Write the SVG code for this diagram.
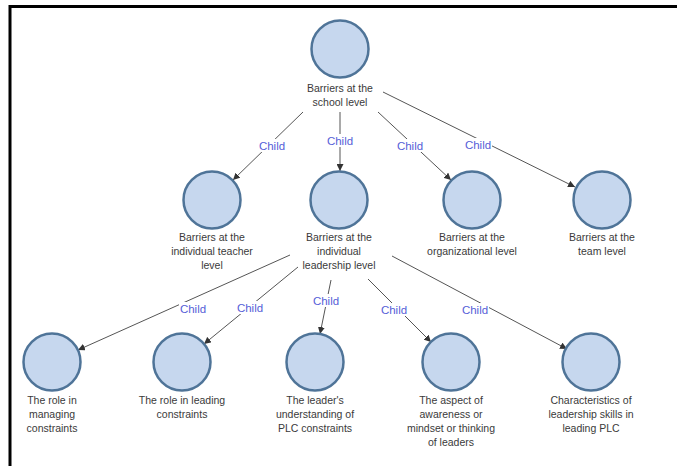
<svg xmlns="http://www.w3.org/2000/svg" width="677" height="466" viewBox="0 0 677 466">
  <defs>
    <marker id="arrow" viewBox="0 0 10 10" refX="10" refY="5" markerWidth="7" markerHeight="7" markerUnits="userSpaceOnUse" orient="auto">
      <path d="M0,0 L10,5 L0,10 z" fill="#333"/>
    </marker>
  </defs>
  <style>
    .node circle { fill: #c6d7ee; stroke: #4f7498; stroke-width: 2.5; }
    .node text { font-family: "Liberation Sans", Arial, sans-serif; font-size: 10.5px; fill: #3a3a3a; text-anchor: middle; }
    .edge line { stroke: #555; stroke-width: 1; marker-end: url(#arrow); }
    .edge rect { fill: #fff; }
    .edge text { font-family: "Liberation Sans", Arial, sans-serif; font-size: 11.5px; fill: #5560d8; text-anchor: middle; }
  </style>
  <rect x="0" y="0" width="677" height="466" fill="#fff"/>
  <!-- frame: top and left rules only -->
  <path d="M10,466 L10,6.5 L677,6.5" fill="none" stroke="#000" stroke-width="3"/>

  <g id="connectors">
    <g class="edge">
      <line x1="303" y1="112" x2="233" y2="180"/>
      <rect x="258" y="139" width="28" height="13"/><text x="272" y="150">Child</text>
    </g>
    <g class="edge">
      <line x1="340" y1="112" x2="340" y2="171"/>
      <rect x="326" y="134" width="28" height="13"/><text x="340" y="145">Child</text>
    </g>
    <g class="edge">
      <line x1="378" y1="112" x2="451" y2="180"/>
      <rect x="396" y="139" width="28" height="13"/><text x="410" y="150">Child</text>
    </g>
    <g class="edge">
      <line x1="383" y1="92" x2="575" y2="187"/>
      <rect x="464" y="138" width="28" height="13"/><text x="478" y="149">Child</text>
    </g>
    <g class="edge">
      <line x1="290" y1="255" x2="78" y2="350"/>
      <rect x="179" y="302" width="28" height="13"/><text x="193" y="313">Child</text>
    </g>
    <g class="edge">
      <line x1="298" y1="267" x2="204" y2="344"/>
      <rect x="236" y="301" width="28" height="13"/><text x="250" y="312">Child</text>
    </g>
    <g class="edge">
      <line x1="331" y1="280" x2="320" y2="334"/>
      <rect x="312" y="294" width="28" height="13"/><text x="326" y="305">Child</text>
    </g>
    <g class="edge">
      <line x1="368" y1="279" x2="431" y2="342"/>
      <rect x="380" y="303" width="28" height="13"/><text x="394" y="314">Child</text>
    </g>
    <g class="edge">
      <line x1="392" y1="256" x2="567" y2="349"/>
      <rect x="461" y="303" width="28" height="13"/><text x="475" y="314">Child</text>
    </g>
  </g>

  <g id="school" class="node">
    <circle cx="340" cy="49" r="28.5"/>
    <text x="340" y="92">Barriers at the</text>
    <text x="340" y="106">school level</text>
  </g>
  <g id="teacher" class="node">
    <circle cx="212" cy="200" r="28.5"/>
    <text x="212" y="241">Barriers at the</text>
    <text x="212" y="255">individual teacher</text>
    <text x="212" y="269">level</text>
  </g>
  <g id="leadership" class="node">
    <circle cx="339" cy="200" r="28.5"/>
    <text x="339" y="241">Barriers at the</text>
    <text x="339" y="255">individual</text>
    <text x="339" y="269">leadership level</text>
  </g>
  <g id="organizational" class="node">
    <circle cx="472" cy="200" r="28.5"/>
    <text x="472" y="241">Barriers at the</text>
    <text x="472" y="255">organizational level</text>
  </g>
  <g id="team" class="node">
    <circle cx="602" cy="200" r="28.5"/>
    <text x="602" y="241">Barriers at the</text>
    <text x="602" y="255">team level</text>
  </g>

  <g id="managing" class="node">
    <circle cx="52" cy="362" r="28.5"/>
    <text x="52" y="404">The role in</text>
    <text x="52" y="418">managing</text>
    <text x="52" y="432">constraints</text>
  </g>
  <g id="leading" class="node">
    <circle cx="182" cy="362" r="28.5"/>
    <text x="182" y="404">The role in leading</text>
    <text x="182" y="418">constraints</text>
  </g>
  <g id="understanding" class="node">
    <circle cx="315" cy="362" r="28.5"/>
    <text x="315" y="404">The leader's</text>
    <text x="315" y="418">understanding of</text>
    <text x="315" y="432">PLC constraints</text>
  </g>
  <g id="awareness" class="node">
    <circle cx="451" cy="362" r="28.5"/>
    <text x="451" y="404">The aspect of</text>
    <text x="451" y="418">awareness or</text>
    <text x="451" y="432">mindset or thinking</text>
    <text x="451" y="446">of leaders</text>
  </g>
  <g id="skills" class="node">
    <circle cx="591" cy="362" r="28.5"/>
    <text x="591" y="404">Characteristics of</text>
    <text x="591" y="418">leadership skills in</text>
    <text x="591" y="432">leading PLC</text>
  </g>
</svg>
